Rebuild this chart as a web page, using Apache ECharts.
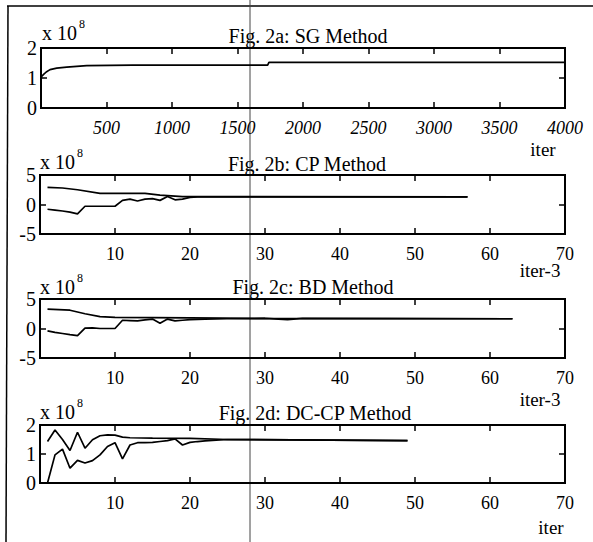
<!DOCTYPE html>
<html>
<head>
<meta charset="utf-8">
<script src="https://cdn.jsdelivr.net/npm/echarts@6/dist/echarts.min.js"></script>
<style>
  html, body { margin: 0; padding: 0; background: #fff; }
  #chart { width: 593px; height: 542px; }
</style>
</head>
<body>
<div id="chart"></div>
<script>
// Fig. 2a: SG method (x in iterations, y in units of 1e8)
const sgIter = [0, 5, 18, 40, 69, 120, 196, 349, 700, 1730, 1740, 4000];
const sgVal = [0.95, 1.05, 1.11, 1.2, 1.28, 1.33, 1.36, 1.41, 1.43, 1.43, 1.52, 1.52];

// Fig. 2b: CP method, upper and lower bound
const cpUpperIter = [1, 3, 5, 8, 14, 16, 19, 57];
const cpUpper = [2.9, 2.8, 2.5, 1.9, 1.9, 1.6, 1.35, 1.3];
const cpLowerIter = [1, 2, 3, 4, 5, 6, 7, 8, 9, 10, 11, 12, 13, 14, 15, 16, 17, 18, 19, 20, 21, 22, 57];
const cpLower = [-0.8, -0.95, -1.1, -1.3, -1.6, -0.3, -0.3, -0.3, -0.3, -0.3, 0.7, 0.9, 0.6, 0.9, 1.0, 0.7, 1.35, 0.8, 0.9, 1.2, 1.3, 1.3, 1.3];

// Fig. 2c: BD method
const bdUpperIter = [1, 4, 6, 8, 10, 20, 30, 63];
const bdUpper = [3.3, 3.1, 2.5, 2.0, 1.9, 1.8, 1.7, 1.65];
const bdLowerIter = [1, 2, 3, 4, 5, 6, 7, 8, 9, 10, 11, 12, 13, 14, 15, 16, 17, 18, 19, 20, 22, 25, 30, 33, 35, 63];
const bdLower = [-0.4, -0.65, -0.85, -1.05, -1.2, 0.05, 0.1, 0.0, 0.0, 0.0, 1.4, 1.35, 1.3, 1.45, 1.6, 0.9, 1.6, 1.3, 1.4, 1.5, 1.6, 1.65, 1.7, 1.5, 1.7, 1.65];

// Fig. 2d: DC-CP method
const dcUpperIter = [1, 2, 3, 4, 5, 6, 7, 8, 9, 10, 11, 12, 15, 20, 25, 49];
const dcUpper = [1.43, 1.83, 1.5, 1.12, 1.75, 1.2, 1.49, 1.63, 1.66, 1.65, 1.58, 1.56, 1.55, 1.54, 1.5, 1.46];
const dcLowerIter = [1, 2, 3, 4, 5, 6, 7, 8, 9, 10, 11, 12, 13, 14, 15, 16, 17, 18, 19, 20, 21, 22, 25, 49];
const dcLower = [0, 0.97, 1.17, 0.51, 0.78, 0.69, 0.77, 0.97, 1.26, 1.39, 0.83, 1.31, 1.39, 1.39, 1.4, 1.43, 1.46, 1.52, 1.31, 1.4, 1.43, 1.45, 1.5, 1.46];

const titles = ["Fig. 2a: SG Method", "Fig. 2b: CP Method", "Fig. 2c: BD Method", "Fig. 2d: DC-CP Method"];
const xNames = ["iter", "iter-3", "iter-3", "iter"];

const FONT = "'Liberation Serif', 'DejaVu Serif', serif";

// panel layout: box position, axis ranges
const panels = [
  { left: 41, top: 48, height: 60, xMax: 4000, xStep: 500, yMin: 0, yMax: 2, yStep: 1, italic: true,
    title: [308, 46], exp: [42, 43], name: [543, 149] },
  { left: 40, top: 175, height: 59, xMax: 70, xStep: 10, yMin: -5, yMax: 5, yStep: 5, italic: false,
    title: [307, 174], exp: [40, 172], name: [540, 270] },
  { left: 40, top: 299, height: 59, xMax: 70, xStep: 10, yMin: -5, yMax: 5, yStep: 5, italic: false,
    title: [313, 297], exp: [40, 297], name: [540, 399] },
  { left: 40, top: 425, height: 58, xMax: 70, xStep: 10, yMin: 0, yMax: 2, yStep: 1, italic: false,
    title: [315, 423], exp: [40, 422], name: [551, 527] },
];

function zip(xs, ys) {
  return xs.map((x, i) => [x, ys[i]]);
}

const lineSets = [
  [zip(sgIter, sgVal)],
  [zip(cpUpperIter, cpUpper), zip(cpLowerIter, cpLower)],
  [zip(bdUpperIter, bdUpper), zip(bdLowerIter, bdLower)],
  [zip(dcUpperIter, dcUpper), zip(dcLowerIter, dcLower)],
];

const grid = [];
const xAxis = [];
const yAxis = [];
const series = [];
const graphic = [];

function makeTick() {
  return { show: true, inside: true, length: 6, lineStyle: { color: "#000", width: 1.5 } };
}
function makeLine() {
  return { show: true, onZero: false, lineStyle: { color: "#000", width: 2 } };
}
function hiddenSplit() {
  return { show: true, lineStyle: { color: "rgba(0,0,0,0)", width: 0 } };
}

panels.forEach((p, i) => {
  grid.push({ left: p.left, top: p.top, width: 565 - p.left, height: p.height,
    show: true, borderColor: "#000", borderWidth: 2 });

  const xr = { gridIndex: i, type: "value", min: 0, max: p.xMax, interval: p.xStep };
  const yr = { gridIndex: i, type: "value", min: p.yMin, max: p.yMax, interval: p.yStep };

  xAxis.push({ ...xr, position: "bottom", axisLine: makeLine(), axisTick: makeTick(), splitLine: hiddenSplit(),
    axisLabel: { show: true, showMinLabel: false, margin: 11, color: "#000", fontFamily: FONT,
      fontSize: 18, fontStyle: p.italic ? "italic" : "normal", formatter: (v) => String(v) } });
  xAxis.push({ ...xr, position: "top", axisLine: makeLine(), axisTick: makeTick(), splitLine: hiddenSplit(),
    axisLabel: { show: false } });

  yAxis.push({ ...yr, position: "left", axisLine: makeLine(), axisTick: makeTick(), splitLine: hiddenSplit(),
    axisLabel: { show: true, margin: 4, color: "#000", fontFamily: FONT, fontSize: 20 } });
  yAxis.push({ ...yr, position: "right", axisLine: makeLine(), axisTick: makeTick(), splitLine: hiddenSplit(),
    axisLabel: { show: false } });

  lineSets[i].forEach((data) => {
    series.push({ type: "line", xAxisIndex: i * 2, yAxisIndex: i * 2, data,
      showSymbol: false, symbol: "none", smooth: false,
      lineStyle: { color: "#000", width: 1.7 }, z: 3 });
  });

  graphic.push({ type: "text", x: p.title[0], y: p.title[1],
    style: { text: titles[i], fill: "#000", font: "20px " + FONT, align: "center", verticalAlign: "bottom" } });
  graphic.push({ type: "text", x: p.exp[0], y: p.exp[1],
    style: { text: "x 10", fill: "#000", font: "20px " + FONT, align: "left", verticalAlign: "bottom" } });
  graphic.push({ type: "text", x: p.exp[0] + 37, y: p.exp[1] - 13,
    style: { text: "8", fill: "#000", font: "12px " + FONT, align: "left", verticalAlign: "bottom" } });
  graphic.push({ type: "text", x: p.name[0], y: p.name[1],
    style: { text: xNames[i], fill: "#000", font: "19px " + FONT, align: "center", verticalAlign: "middle" } });
});

// scanned page frame and the stray vertical line through the scan
graphic.push({ type: "line", shape: { x1: 7, y1: 6, x2: 593, y2: 6 }, style: { stroke: "#000", lineWidth: 1.5 } });
graphic.push({ type: "line", shape: { x1: 8, y1: 6, x2: 6, y2: 542 }, style: { stroke: "#000", lineWidth: 1.5 } });
graphic.push({ type: "line", shape: { x1: 250, y1: 0, x2: 250, y2: 542 }, style: { stroke: "#444", lineWidth: 1 } });

const chart = echarts.init(document.getElementById("chart"), null, { renderer: "svg" });
chart.setOption({
  animation: false,
  backgroundColor: "#fff",
  grid,
  xAxis,
  yAxis,
  series,
  graphic,
});
</script>
</body>
</html>
